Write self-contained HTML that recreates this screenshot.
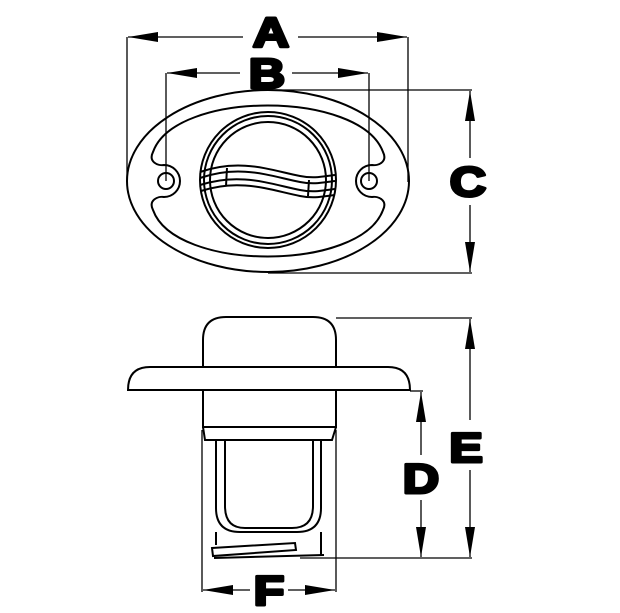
<!DOCTYPE html>
<html><head><meta charset="utf-8"><style>html,body{margin:0;padding:0;background:#fff}svg{display:block}</style></head><body>
<svg width="620" height="613" viewBox="0 0 620 613" xmlns="http://www.w3.org/2000/svg">
<defs>
<marker id="ar" viewBox="0 0 30 10" refX="30" refY="5" markerWidth="30" markerHeight="10" markerUnits="userSpaceOnUse" orient="auto-start-reverse"><path d="M0,0 L30,5 L0,10 Z" fill="#000"/></marker>
</defs>
<g fill="none" stroke="#000" stroke-width="1.3">
<line x1="127" y1="37" x2="127" y2="182"/><line x1="408" y1="37" x2="408" y2="182"/>
<line x1="128" y1="37" x2="243" y2="37" marker-start="url(#ar)"/>
<line x1="298" y1="37" x2="407" y2="37" marker-end="url(#ar)"/>
<line x1="166" y1="73" x2="166" y2="181"/><line x1="369" y1="73" x2="369" y2="181"/>
<line x1="167" y1="73" x2="240" y2="73" marker-start="url(#ar)"/>
<line x1="292" y1="73" x2="368" y2="73" marker-end="url(#ar)"/>
<line x1="268" y1="90" x2="472" y2="90"/><line x1="268" y1="273" x2="472" y2="273"/>
<line x1="470" y1="91" x2="470" y2="158" marker-start="url(#ar)"/>
<line x1="470" y1="205" x2="470" y2="272" marker-end="url(#ar)"/>
<g stroke-width="2">
<ellipse cx="268" cy="181" rx="141" ry="91"/>
<path d="M153,152 C175,90 360,90 383,152 C388,162 378,166 372,165 A16,16 0 0 0 372,197 C378,196 388,200 383,210 C360,272 175,272 153,210 C148,200 158,196 164,197 A16,16 0 0 0 164,165 C158,166 148,162 153,152 Z"/>
<circle cx="166" cy="181" r="8"/><circle cx="369" cy="181" r="8"/>
<circle cx="268" cy="180" r="68"/><circle cx="268" cy="180" r="64"/><circle cx="268" cy="180" r="58"/>
<path d="M200,172 C240,158 270,170 300,176 C315,179 325,176 335,175"/>
<path d="M200,178 C240,164 270,176 300,182 C315,185 325,182 335,181"/>
<path d="M200,185 C240,172 270,184 300,190 C315,193 325,190 335,189"/>
<path d="M201,191 C240,178 270,190 300,196 C315,199 325,196 335,195"/>
<line x1="227" y1="168" x2="226" y2="186"/><line x1="309" y1="180" x2="308" y2="196"/>
</g>
<g stroke-width="2">
<path d="M203,367 L203,340 Q203,317 226,317 L313,317 Q336,317 336,340 L336,367"/>
<path d="M128,390 Q128,367 150,367 L388,367 Q410,367 410,390 Z"/>
<path d="M203,390 L203,427 L336,427 L336,390"/>
<path d="M203,427 L205,440 L332,440 L336,427"/>
<path d="M216,440 L216,508 Q216,532 240,532 L297,532 Q321,532 321,508 L321,440"/>
<path d="M225,440 L225,506 Q225,528 245,528 L292,528 Q313,528 313,506 L313,440"/>
<path d="M216,532 L216,545 M321,532 L321,556"/>
<path d="M212,548 L295,543 L296,550 L213,556 Z"/>
<path d="M214,558 L324,555"/>
</g>
<line x1="336" y1="318" x2="472" y2="318"/>
<line x1="410" y1="391" x2="423" y2="391"/>
<line x1="300" y1="558" x2="472" y2="558"/>
<line x1="470" y1="319" x2="470" y2="420" marker-start="url(#ar)"/>
<line x1="470" y1="470" x2="470" y2="557" marker-end="url(#ar)"/>
<line x1="421" y1="392" x2="421" y2="455" marker-start="url(#ar)"/>
<line x1="421" y1="500" x2="421" y2="557" marker-end="url(#ar)"/>
<line x1="202" y1="430" x2="202" y2="592"/><line x1="336" y1="430" x2="336" y2="592"/>
<line x1="203" y1="590" x2="250" y2="590" marker-start="url(#ar)"/>
<line x1="288" y1="590" x2="335" y2="590" marker-end="url(#ar)"/>
</g>
<g font-family="Liberation Sans, sans-serif" font-weight="bold" font-size="42" text-anchor="middle" fill="#000" stroke="#000" stroke-width="3" stroke-linejoin="round">
<text transform="translate(271,47) scale(1.2,1)">A</text>
<text transform="translate(267,88) scale(1.2,1)">B</text>
<text transform="translate(468,196) scale(1.2,1)">C</text>
<text transform="translate(466,462) scale(1.2,1)">E</text>
<text transform="translate(421,493) scale(1.2,1)">D</text>
<text transform="translate(269,605) scale(1.2,1)">F</text>
</g>
</svg>
</body></html>
